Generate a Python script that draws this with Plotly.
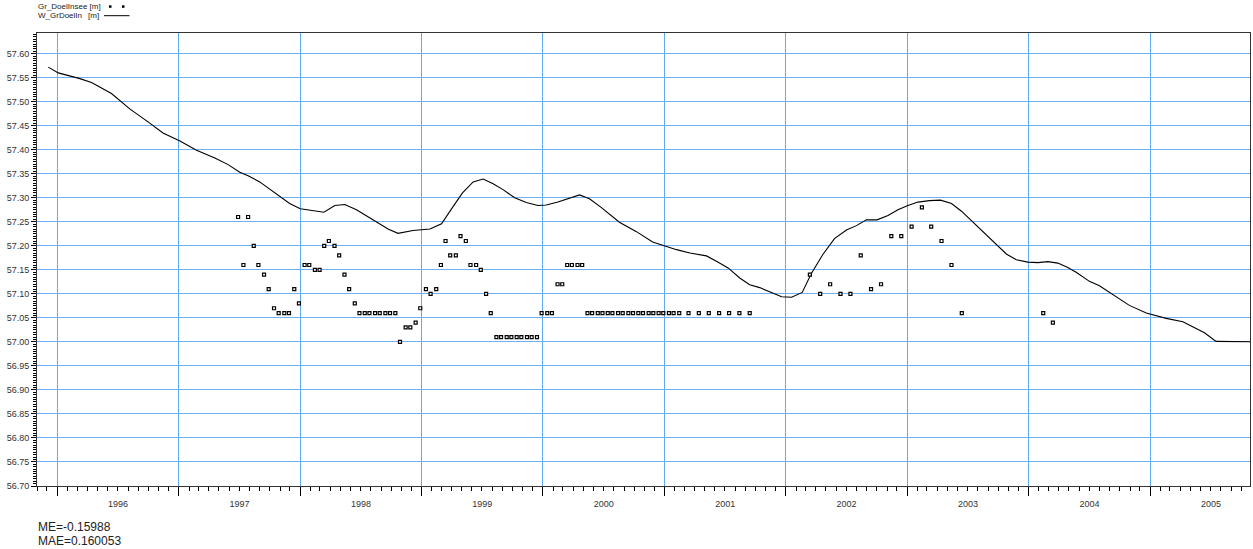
import plotly.graph_objects as go

# ---------------- data ----------------
obs_dates = [
    "1997-06-28", "1997-07-14", "1997-07-28", "1997-08-14", "1997-08-28", "1997-09-14", "1997-09-28",
    "1997-10-14", "1997-10-28", "1997-11-14", "1997-11-28", "1997-12-14", "1997-12-28",
    "1998-01-14", "1998-01-28", "1998-02-14", "1998-02-28", "1998-03-14", "1998-03-28", "1998-04-14",
    "1998-04-28", "1998-05-14", "1998-05-28", "1998-06-14", "1998-06-28", "1998-07-14", "1998-07-28",
    "1998-08-14", "1998-08-28", "1998-09-14", "1998-09-28", "1998-10-14", "1998-10-28", "1998-11-14",
    "1998-11-28", "1998-12-14", "1998-12-28",
    "1999-01-14", "1999-01-28", "1999-02-14", "1999-02-28", "1999-03-14", "1999-03-28", "1999-04-14",
    "1999-04-28", "1999-05-14", "1999-05-28", "1999-06-14", "1999-06-28", "1999-07-14", "1999-07-28",
    "1999-08-14", "1999-08-28", "1999-09-14", "1999-09-28", "1999-10-14", "1999-10-28", "1999-11-14",
    "1999-11-28", "1999-12-14", "1999-12-28",
    "2000-01-14", "2000-01-28", "2000-02-14", "2000-02-28", "2000-03-14", "2000-03-28", "2000-04-14",
    "2000-04-28", "2000-05-14", "2000-05-28", "2000-06-14", "2000-06-28", "2000-07-14", "2000-07-28",
    "2000-08-14", "2000-08-28", "2000-09-14", "2000-09-28", "2000-10-14", "2000-10-28", "2000-11-14",
    "2000-11-28", "2000-12-14", "2000-12-28",
    "2001-01-14", "2001-01-28", "2001-02-14", "2001-03-14", "2001-04-14", "2001-05-14", "2001-06-14",
    "2001-07-14", "2001-08-14", "2001-09-14",
    "2002-03-14", "2002-04-14", "2002-05-14", "2002-06-14", "2002-07-14", "2002-08-14", "2002-09-14",
    "2002-10-14", "2002-11-14", "2002-12-14",
    "2003-01-14", "2003-02-14", "2003-03-14", "2003-04-14", "2003-05-14", "2003-06-14",
    "2004-02-14", "2004-03-14",
]
obs_values = [
    57.26, 57.16, 57.26, 57.20, 57.16, 57.14, 57.11,
    57.07, 57.06, 57.06, 57.06, 57.11, 57.08,
    57.16, 57.16, 57.15, 57.15, 57.20, 57.21, 57.20,
    57.18, 57.14, 57.11, 57.08, 57.06, 57.06, 57.06,
    57.06, 57.06, 57.06, 57.06, 57.06, 57.00, 57.03,
    57.03, 57.04, 57.07,
    57.11, 57.10, 57.11, 57.16, 57.21, 57.18, 57.18,
    57.22, 57.21, 57.16, 57.16, 57.15, 57.10, 57.06,
    57.01, 57.01, 57.01, 57.01, 57.01, 57.01, 57.01,
    57.01, 57.01, 57.06,
    57.06, 57.06, 57.12, 57.12, 57.16, 57.16, 57.16,
    57.16, 57.06, 57.06, 57.06, 57.06, 57.06, 57.06,
    57.06, 57.06, 57.06, 57.06, 57.06, 57.06, 57.06,
    57.06, 57.06, 57.06,
    57.06, 57.06, 57.06, 57.06, 57.06, 57.06, 57.06,
    57.06, 57.06, 57.06,
    57.14, 57.10, 57.12, 57.10, 57.10, 57.18, 57.11,
    57.12, 57.22, 57.22,
    57.24, 57.28, 57.24, 57.21, 57.16, 57.06,
    57.06, 57.04,
]

sim_dates = [
    "1995-12-05", "1996-01-04", "1996-03-09", "1996-04-13", "1996-06-12", "1996-08-06", "1996-09-30",
    "1996-11-14", "1997-01-04", "1997-02-23", "1997-04-19", "1997-05-29", "1997-07-03", "1997-07-28",
    "1997-09-01", "1997-10-21", "1997-11-30", "1998-01-01", "1998-03-13", "1998-04-15", "1998-05-15",
    "1998-06-19", "1998-08-18", "1998-09-22", "1998-10-22", "1998-12-06", "1999-01-26", "1999-03-02",
    "1999-04-01", "1999-05-04", "1999-06-05", "1999-07-05", "1999-08-04", "1999-09-03", "1999-10-08",
    "1999-11-12", "1999-12-17", "2000-01-11", "2000-02-15", "2000-03-21", "2000-04-20", "2000-05-20",
    "2000-06-24", "2000-08-18", "2000-10-07", "2000-11-26", "2001-01-02", "2001-02-06", "2001-03-18",
    "2001-05-07", "2001-06-06", "2001-07-11", "2001-08-15", "2001-09-14", "2001-10-14", "2001-12-19",
    "2002-01-18", "2002-02-19", "2002-03-18", "2002-04-22", "2002-05-27", "2002-07-02", "2002-08-01",
    "2002-08-31", "2002-10-02", "2002-11-04", "2002-12-04", "2003-01-03", "2003-02-02", "2003-03-09",
    "2003-04-11", "2003-05-14", "2003-06-13", "2003-07-18", "2003-08-22", "2003-09-26", "2003-10-26",
    "2003-11-25", "2003-12-30", "2004-01-29", "2004-02-28", "2004-03-29", "2004-04-28", "2004-05-23",
    "2004-07-02", "2004-08-01", "2004-09-10", "2004-10-30", "2004-12-20", "2005-02-18", "2005-04-09",
    "2005-06-13", "2005-07-18", "2005-10-21", "2005-12-31",
]
sim_values = [
    57.572, 57.560, 57.548, 57.540, 57.517, 57.485, 57.458,
    57.435, 57.418, 57.399, 57.383, 57.369, 57.353, 57.346,
    57.333, 57.307, 57.288, 57.277, 57.270, 57.284, 57.286,
    57.275, 57.249, 57.235, 57.226, 57.232, 57.235, 57.246,
    57.277, 57.310, 57.333, 57.339, 57.329, 57.317, 57.300,
    57.290, 57.284, 57.285, 57.291, 57.299, 57.306, 57.298,
    57.280, 57.249, 57.230, 57.208, 57.199, 57.192, 57.185,
    57.179, 57.168, 57.154, 57.133, 57.119, 57.113, 57.094,
    57.093, 57.103, 57.142, 57.182, 57.215, 57.233, 57.242,
    57.254, 57.254, 57.263, 57.275, 57.284, 57.291, 57.294,
    57.295, 57.288, 57.272, 57.249, 57.225, 57.201, 57.183,
    57.171, 57.166, 57.165, 57.167, 57.164, 57.155, 57.145,
    57.126, 57.117, 57.099, 57.076, 57.060, 57.049, 57.042,
    57.019, 57.001, 57.000, 57.000,
]

obs_name = "Gr_DoelInsee"
sim_name = "W_GrDoelIn"
unit = "[m]"
stats_lines = ["ME=-0.15988", "MAE=0.160053"]

# ---------------- layout helpers (pixel -> paper) ----------------
W, H = 1253, 549
L, R, T, B = 37, 1250, 33, 486


def px(x):
    return (x - L) / (R - L)


def py(y):
    return (B - y) / (B - T)


FONT = "Liberation Sans, Arial, sans-serif"

fig = go.Figure()
fig.add_trace(go.Scatter(
    x=sim_dates, y=sim_values, mode="lines", name=sim_name,
    line=dict(color="black", width=1.1), hoverinfo="skip",
))
fig.add_trace(go.Scatter(
    x=obs_dates, y=obs_values, mode="markers", name=obs_name,
    marker=dict(symbol="square", size=3, color="white", line=dict(color="black", width=1.2)),
))

annotations = [
    dict(text=obs_name + " " + unit, x=px(36), y=py(6.5)),
    dict(text=sim_name, x=px(36), y=py(15.7)),
    dict(text=unit, x=px(85.5), y=py(15.7)),
]
annotations = [dict(a, xref="paper", yref="paper", xanchor="left", yanchor="middle",
                    showarrow=False, font=dict(family=FONT, size=8, color="#222")) for a in annotations]
for i, s in enumerate(stats_lines):
    annotations.append(dict(text=s, xref="paper", yref="paper", x=px(36), y=py(527 + 14 * i),
                            xanchor="left", yanchor="middle", showarrow=False,
                            font=dict(family=FONT, size=12, color="#222")))

shapes = [
    dict(type="rect", xref="paper", yref="paper", x0=px(109), x1=px(111.5), y0=py(5.3), y1=py(7.8),
         fillcolor="black", line=dict(width=0)),
    dict(type="rect", xref="paper", yref="paper", x0=px(122), x1=px(124.5), y0=py(5.3), y1=py(7.8),
         fillcolor="black", line=dict(width=0)),
    dict(type="line", xref="paper", yref="paper", x0=px(104), x1=px(129.5), y0=py(15.7), y1=py(15.7),
         line=dict(color="black", width=1)),
]

fig.update_layout(
    width=W, height=H, autosize=False,
    margin=dict(l=L, r=W - R, t=T, b=H - B, autoexpand=False),
    paper_bgcolor="white", plot_bgcolor="white",
    showlegend=False,
    font=dict(family=FONT, size=9, color="#333"),
    annotations=annotations, shapes=shapes,
    xaxis=dict(
        type="date", range=["1995-11-01", "2005-10-28"],
        tick0="1996-01-01", dtick="M12", tickformat="%Y", ticklabelmode="period",
        ticks="outside", ticklen=9, tickcolor="black", tickwidth=1,
        showgrid=True, gridcolor="#5fa8f2", gridwidth=1,
        showline=True, linecolor="#333", linewidth=1, mirror=True,
        zeroline=False, automargin=False,
        tickfont=dict(family=FONT, size=9, color="#333"),
        minor=dict(dtick="M1", tick0="1996-01-01", ticks="outside", ticklen=4,
                   tickcolor="black", showgrid=False),
    ),
    yaxis=dict(
        range=[56.70, 57.643], tick0=56.70, dtick=0.05, tickformat=".2f",
        ticks="outside", ticklen=5, tickcolor="black",
        showgrid=True, gridcolor="#6eb0f5", gridwidth=1,
        showline=True, linecolor="#333", linewidth=1, mirror=True,
        zeroline=False, automargin=False,
        tickfont=dict(family=FONT, size=9, color="#333"),
        minor=dict(dtick=0.005, tick0=56.70, ticks="outside", ticklen=3,
                   tickcolor="black", showgrid=False),
    ),
)

fig.write_html("out.html", config={"displayModeBar": False},
               post_script="document.body.style.margin='0';document.body.style.overflow='hidden';")
